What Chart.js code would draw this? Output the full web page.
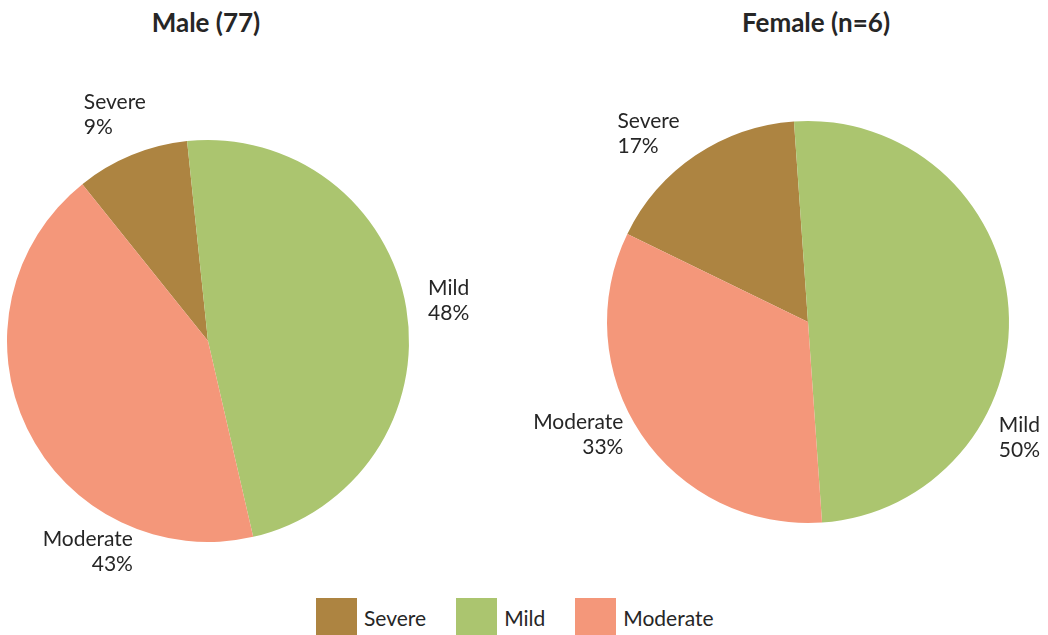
<!DOCTYPE html>
<html>
<head>
<meta charset="utf-8">
<script src="https://cdn.jsdelivr.net/npm/chart.js@4"></script>
<style>
  html, body { margin: 0; padding: 0; background: #fff; }
  body { width: 1048px; height: 635px; position: relative; overflow: hidden; font-family: Lato, sans-serif; color: #262626; }
  .pane { position: absolute; top: 0; width: 524px; height: 590px; }
  .title { position: absolute; top: 6px; font-weight: bold; font-size: 26px; white-space: nowrap; transform: translateX(-50%); }
  .legend { position: absolute; left: 316px; top: 598px; display: flex; align-items: flex-start; gap: 30px; }
  .legend .item { display: flex; align-items: center; }
  .legend .box { width: 41px; height: 41px; margin-right: 7px; }
  .legend .txt { font-size: 21px; margin-top: -3px; }
</style>
</head>
<body>
<div class="title" style="left:206px">Male (77)</div>
<div class="title" style="left:816px">Female (n=6)</div>
<div class="pane" style="left:0"><canvas id="maleChart" width="524" height="590"></canvas></div>
<div class="pane" style="left:524px"><canvas id="femaleChart" width="524" height="590"></canvas></div>
<div class="legend" id="legend"></div>
<script>
// severity split by sex
const categories = ['Severe', 'Mild', 'Moderate'];
const maleCounts = [7, 37, 33];
const femaleCounts = [1, 3, 2];
const sliceColors = ['#AD8441', '#ABC56F', '#F4977A'];

// label placement: shift from slice mid angle (deg), gap beyond rim (px)
const maleLabelShift = [0, 0, -34.5];
const maleLabelGap = [44, 43, 42];
const femaleLabelShift = [-6.2, 32.7, 7.8];
const femaleLabelGap = [46, 40, 55];
const labelAlign = ['left', 'left', 'right'];

// draws "Name / NN%" outside each slice
const outsideLabels = {
    id: 'outsideLabels',
    afterDatasetsDraw(chart, args, opts) {
        const { ctx } = chart;
        const meta = chart.getDatasetMeta(0);
        const values = chart.data.datasets[0].data;
        const total = values.reduce((s, v) => s + v, 0);
        ctx.save();
        ctx.font = '21px Lato';
        ctx.fillStyle = '#262626';
        ctx.textBaseline = 'middle';
        meta.data.forEach((arc, i) => {
            const { x, y, startAngle, endAngle, outerRadius } =
                arc.getProps(['x', 'y', 'startAngle', 'endAngle', 'outerRadius'], true);
            const a = (startAngle + endAngle) / 2 + opts.shift[i] * Math.PI / 180;
            const d = outerRadius + opts.gap[i];
            const cx = x + Math.cos(a) * d;
            const cy = y + Math.sin(a) * d;
            const lines = [chart.data.labels[i], Math.round(values[i] / total * 100) + '%'];
            const w = Math.max(...lines.map(t => ctx.measureText(t).width));
            const right = labelAlign[i] === 'right';
            ctx.textAlign = right ? 'right' : 'left';
            const tx = right ? cx + w / 2 : cx - w / 2;
            lines.forEach((t, k) => ctx.fillText(t, tx, cy + (k - 0.5) * 25));
        });
        ctx.restore();
    }
};

function makePie(id, counts, rotation, padding, shift, gap) {
    return new Chart(document.getElementById(id), {
        type: 'pie',
        data: {
            labels: categories,
            datasets: [{
                data: counts,
                backgroundColor: sliceColors,
                borderWidth: 0,
            }],
        },
        options: {
            responsive: false,
            animation: false,
            rotation,
            layout: { padding },
            plugins: {
                legend: { display: false },
                tooltip: { enabled: false },
                outsideLabels: { shift, gap },
            },
        },
        plugins: [outsideLabels],
    });
}

makePie('maleChart', maleCounts, -38.7, { left: 7, right: 115, top: 140, bottom: 48 }, maleLabelShift, maleLabelGap);
makePie('femaleChart', femaleCounts, -64, { left: 83, right: 39, top: 121, bottom: 67 }, femaleLabelShift, femaleLabelGap);

// shared legend
const legend = document.getElementById('legend');
categories.forEach((c, i) => {
    const item = document.createElement('div');
    item.className = 'item';
    item.innerHTML = `<div class="box" style="background:${sliceColors[i]}"></div><span class="txt">${c}</span>`;
    legend.appendChild(item);
});
</script>
</body>
</html>
